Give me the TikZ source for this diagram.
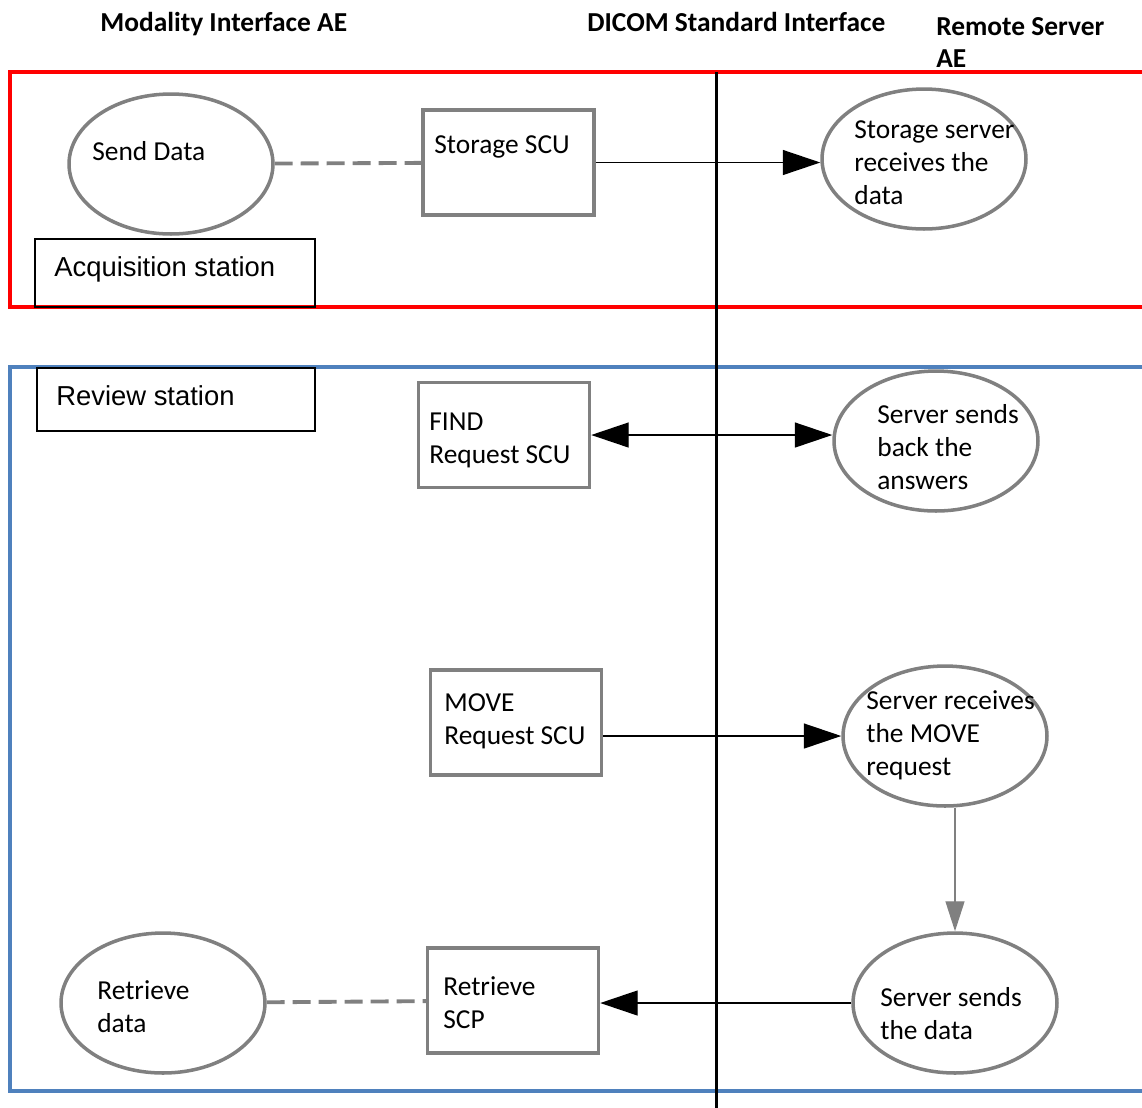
\documentclass[tikz,border=0pt]{standalone}
\usepackage{fontspec}
\setmainfont{Carlito}
\newfontfamily\stfont{Liberation Sans}
\usetikzlibrary{shapes.geometric,arrows.meta}
\definecolor{redline}{RGB}{255,0,0}
\definecolor{blueline}{RGB}{79,129,189}
\definecolor{grayline}{RGB}{128,128,128}
\begin{document}
\begin{tikzpicture}[x=0.02cm,y=-0.02cm,font=\fontsize{15.6}{18.7}\selectfont,
 proc/.style={draw=grayline,line width=2pt,ellipse,minimum width=4.08cm,minimum height=2.8cm,inner sep=0pt},
 scu/.style={draw=grayline,line width=2pt,rectangle,minimum width=3.42cm,minimum height=2.1cm,inner sep=0pt},
 txt/.style={anchor=base west,align=left,inner sep=0pt},
 hdr/.style={txt,font=\bfseries\fontsize{15.6}{18.1}\selectfont},
 stbox/.style={draw,line width=0.8pt,rectangle,inner sep=0pt},
 sttxt/.style={txt,font=\stfont\fontsize{15.6}{18.7}\selectfont},
 tip/.tip={Triangle[length=0.75cm,width=0.5cm]},
 msg/.style={line width=0.8pt,-tip},
 msgs/.style={line width=0.8pt,tip-tip},
 link/.style={draw=grayline,line width=2.2pt,dash pattern=on 0.36cm off 0.16cm}]
\useasboundingbox (0,0) rectangle (1142,1107);
\draw[redline,line width=2.3pt] (10,72) rectangle (1170,307);
\draw[blueline,line width=2.3pt] (10,367) rectangle (1170,1091);
\draw[line width=1.7pt] (716,72)--(716,1110);
\node[hdr] (mod) at (100,31) {Modality Interface AE};
\node[hdr] (dicom) at (587,31) {DICOM Standard Interface};
\node[hdr] (remote) at (936,67) {Remote Server\\AE};
\node[stbox,minimum width=5.6cm,minimum height=1.36cm] (acq) at (175,273) {};
\node[sttxt] (acqtxt) at (54,276) {Acquisition station};
\node[stbox,minimum width=5.56cm,minimum height=1.26cm] (rev) at (176,399.5) {};
\node[sttxt] (revtxt) at (56,405) {Review station};
\node[proc] (send) at (171,164) {};
\node[txt] (sendtxt) at (92,160) {Send Data};
\node[scu] (stscu) at (508.5,162.5) {};
\node[txt] (stscutxt) at (434,153) {Storage SCU};
\node[proc] (stsrv) at (924,159) {};
\node[txt] (stsrvtxt) at (854,204) {Storage server\\receives the\\data};
\draw[link] (send)--(stscu);
\draw[msg] (stscu.east)--(stscu.east-|stsrv.west);
\node[scu] (find) at (504,435) {};
\node[txt] (findtxt) at (429,463) {FIND\\Request SCU};
\node[proc] (ans) at (936,441) {};
\node[txt] (anstxt) at (877,489) {Server sends\\back the\\answers};
\draw[msgs] (find.east)--(find.east-|ans.west);
\node[scu] (move) at (516,722.5) {};
\node[txt] (movetxt) at (444,744) {MOVE\\Request SCU};
\node[proc] (mvsrv) at (945,736) {};
\node[txt] (mvsrvtxt) at (866,775) {Server receives\\the MOVE\\request};
\draw[msg] (move.east|-mvsrv)--(mvsrv.west);
\node[proc] (sdsrv) at (955,1003) {};
\node[txt] (sdsrvtxt) at (880,1039) {Server sends\\the data};
\draw[grayline,line width=0.8pt,-{Triangle[length=0.6cm,width=0.38cm]}] (sdsrv.north|-mvsrv.south)--(sdsrv.north);
\node[scu] (rscp) at (513,1000.5) {};
\node[txt] (rscptxt) at (443,1028) {Retrieve\\SCP};
\draw[msg] (sdsrv.west)--(sdsrv.west-|rscp.east);
\node[proc] (rdata) at (163,1003) {};
\node[txt] (rdatatxt) at (97,1032) {Retrieve\\data};
\draw[link] (rdata)--(rscp);
\end{tikzpicture}
\end{document}
